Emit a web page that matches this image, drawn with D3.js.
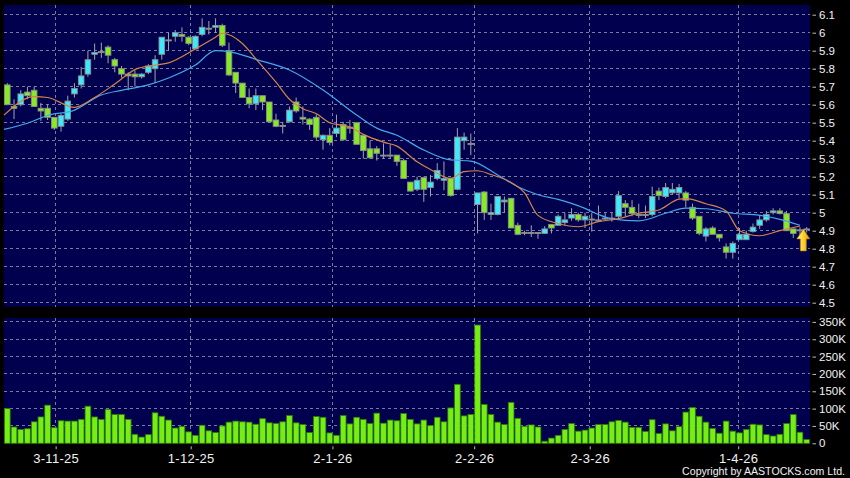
<!DOCTYPE html>
<html><head><meta charset="utf-8">
<script src="https://cdn.jsdelivr.net/npm/d3@7"></script>
<style>html,body{margin:0;padding:0;background:#000;} svg{display:block}</style>
</head><body><svg id="c" width="850" height="478"></svg>
<script>
// ---- DATA ----
const openP  = [5.71,5.59,5.60,5.67,5.68,5.58,5.58,5.53,5.48,5.52, 5.66,5.71,5.77,5.88,5.89,5.92,5.85,5.80,5.77,5.77,
 5.755,5.78,5.80,5.88,5.96,5.98,5.99,5.975,5.91,5.99, 6.025,6.03,6.04,5.90,5.78,5.72,5.64,5.605,5.65,5.615,
 5.515,5.48,5.505,5.615,5.53,5.52,5.53,5.405,5.43,5.44, 5.49,5.475,5.50,5.43,5.355,5.355,5.32,5.32,5.32,5.29,
 5.17,5.13,5.195,5.14,5.19,5.18,5.19,5.13,5.40,5.385, 5.045,5.115,4.99,4.99,5.06,5.08,4.93,4.89,4.89,4.885,
 4.885,4.935,4.93,4.945,4.97,4.99,4.96,4.96,4.96,4.97, 4.97,4.98,5.05,5.03,4.99,4.99,4.99,5.12,5.09,5.11,
 5.11,5.11,5.03,4.98,4.87,4.915,4.88,4.81,4.78,4.85, 4.85,4.895,4.93,4.96,5.00,5.01,4.995,4.91,4.905,4.91];
const highP  = [5.72,5.63,5.68,5.70,5.70,5.61,5.60,5.53,5.55,5.65, 5.72,5.81,5.90,5.94,5.945,5.93,5.86,5.815,5.78,5.79,
 5.775,5.825,5.875,5.975,6.00,6.015,6.03,5.98,5.985,6.08, 6.065,6.08,6.05,5.945,5.78,5.72,5.69,5.69,5.65,5.615,
 5.55,5.505,5.59,5.64,5.59,5.525,5.545,5.435,5.47,5.545, 5.505,5.515,5.50,5.43,5.40,5.37,5.385,5.38,5.32,5.30,
 5.17,5.20,5.20,5.21,5.275,5.285,5.195,5.47,5.445,5.44, 5.11,5.12,5.05,5.09,5.09,5.08,4.945,4.90,4.93,4.89,
 4.925,4.935,4.99,5.00,5.025,5.00,5.00,5.00,5.04,5.00, 5.00,5.12,5.07,5.07,5.05,5.04,5.145,5.14,5.165,5.165,
 5.16,5.12,5.05,4.98,4.92,4.925,4.88,4.83,4.84,4.915, 4.90,4.94,4.985,5.01,5.025,5.025,5.01,4.91,4.92,4.92];
const lowP   = [5.60,5.52,5.59,5.63,5.59,5.51,5.515,5.46,5.45,5.51, 5.64,5.69,5.755,5.85,5.86,5.83,5.78,5.75,5.68,5.70,
 5.745,5.77,5.72,5.85,5.90,5.95,5.95,5.93,5.91,5.98, 5.99,6.00,5.92,5.76,5.665,5.64,5.58,5.57,5.57,5.50,
 5.475,5.44,5.50,5.555,5.49,5.46,5.405,5.35,5.375,5.42, 5.40,5.44,5.38,5.30,5.30,5.29,5.30,5.30,5.26,5.19,
 5.12,5.12,5.06,5.09,5.18,5.125,5.09,5.125,5.35,5.32, 4.885,4.96,4.96,4.985,5.00,4.915,4.875,4.875,4.865,4.855,
 4.885,4.885,4.93,4.93,4.955,4.95,4.915,4.895,4.955,4.955, 4.95,4.97,4.98,4.98,4.97,4.97,4.98,5.07,5.08,5.10,
 5.08,5.03,4.96,4.875,4.84,4.88,4.84,4.745,4.745,4.85, 4.85,4.89,4.91,4.95,4.99,4.99,4.90,4.86,4.87,4.89];
const closeP = [5.60,5.58,5.66,5.65,5.59,5.565,5.53,5.47,5.54,5.62, 5.69,5.76,5.85,5.89,5.895,5.875,5.815,5.77,5.76,5.755,
 5.77,5.815,5.85,5.975,5.96,6.00,5.98,5.94,5.98,6.03, 6.02,6.04,5.93,5.765,5.72,5.64,5.605,5.65,5.615,5.505,
 5.48,5.485,5.57,5.565,5.52,5.49,5.42,5.43,5.39,5.47, 5.405,5.47,5.38,5.345,5.305,5.33,5.32,5.32,5.285,5.19,
 5.12,5.18,5.13,5.17,5.235,5.19,5.095,5.42,5.42,5.38, 5.11,5.00,5.00,5.09,5.07,4.915,4.88,4.885,4.89,4.89,
 4.91,4.915,4.98,4.96,4.99,4.96,4.98,4.965,4.96,4.97, 4.97,5.095,5.03,4.995,4.99,4.99,5.09,5.095,5.14,5.13,
 5.14,5.07,4.97,4.885,4.91,4.88,4.86,4.78,4.83,4.88, 4.88,4.92,4.96,4.99,5.01,4.995,4.90,4.885,4.905,4.91];
const volumeK = [100,47,40,42,62,76,110,45,65,64, 64,69,107,76,69,98,83,83,69,26, 18,25,88,78,67,44,49,33,23,52,
 36,31,50,61,64,62,61,55,71,59, 57,62,80,59,54,31,77,75,30,23, 80,56,75,69,57,87,58,67,65,86,
 69,56,67,51,75,62,102,170,79,83, 341,112,83,61,54,118,72,49,53,47, 6,15,23,40,57,35,38,44,54,54,
 62,66,61,46,46,34,68,28,56,36, 48,90,103,78,61,43,29,64,35,30, 40,55,53,25,21,26,57,83,32,11];
// moving averages read at sample bars: [bar index, value]
const ma10Pts = [[-0.5,5.542],[4,5.645],[6,5.64],[10,5.585],[13,5.64],[16,5.715],[19,5.795],[22,5.82],[24,5.832],
 [28,5.91],[31,5.975],[32,5.997],[35,5.94],[37,5.855],[40,5.725],[42,5.63],[44,5.578],[46,5.55],[48,5.50],
 [51,5.476],[53,5.435],[56,5.392],[58,5.37],[61,5.283],[63,5.24],[66,5.19],[68,5.228],[70,5.233],[72,5.212],
 [75,5.168],[77,5.11],[79,4.985],[82,4.94],[85,4.922],[88,4.95],[91,4.967],[94,4.997],[97,5.015],[100,5.075],
 [101,5.078],[104,5.05],[107,5.01],[109,4.9],[112,4.872],[115,4.9],[118,4.926]];
const ma20Pts = [[-0.5,5.463],[3,5.497],[6,5.54],[10,5.57],[14,5.654],[17,5.68],[21,5.71],[24,5.748],[28,5.82],
 [31,5.9],[33,5.895],[37,5.852],[42,5.793],[47,5.682],[52,5.543],[55,5.47],[58,5.43],[62,5.348],[66,5.293],
 [69,5.287],[73,5.21],[76,5.144],[79,5.1],[82,5.074],[86,5.024],[88,4.99],[90,4.966],[94,4.955],[98,4.997],
 [101,5.025],[104,5.022],[108,4.997],[112,4.985],[115,4.963],[118,4.93]];
const priceTicks = [4.5,4.6,4.7,4.8,4.9,5.0,5.1,5.2,5.3,5.4,5.5,5.6,5.7,5.8,5.9,6.0,6.1];
const volTicks = [0,50,100,150,200,250,300,350];
const dateTickPos = [7.2,27.3,48.4,69.5,86.7,108.8];
const dateTickLabels = ["3-11-25","1-12-25","2-1-26","2-2-26","2-3-26","1-4-26"];
const markerBar = 118.5;

// ---- CHART ----
const svg = d3.select("#c");
const W = 850, H = 478;
const panelL = 4, panelR = 810;
const pTop = 5, pBot = 306.7, vTop = 318, vBot = 443.3;
const NAVY = "#00004e", GRID = "#7a7a9c";

const x = d3.scaleLinear().domain([0, openP.length - 1]).range([7.3, 806.7]);
const yP = d3.scaleLinear().domain([4.5, 6.1]).range([302.7, 14.7]);
const yV = d3.scaleLinear().domain([0, 350]).range([vBot, 321.9]);

svg.append("rect").attr("width", W).attr("height", H).attr("fill", "#000");
svg.append("rect").attr("x", panelL).attr("y", pTop).attr("width", panelR - panelL).attr("height", pBot - pTop).attr("fill", NAVY);
svg.append("rect").attr("x", panelL).attr("y", vTop).attr("width", panelR - panelL).attr("height", vBot - vTop).attr("fill", NAVY);

const grid = svg.append("g").attr("stroke", GRID).attr("stroke-width", 1).attr("stroke-dasharray", "3,3").attr("shape-rendering", "crispEdges");
grid.selectAll(".hp").data(priceTicks).join("line")
  .attr("x1", panelL).attr("x2", panelR).attr("y1", d => yP(d)).attr("y2", d => yP(d));
grid.selectAll(".hv").data(volTicks.filter(d => d > 0)).join("line").attr("class","hv")
  .attr("x1", panelL).attr("x2", panelR).attr("y1", d => yV(d)).attr("y2", d => yV(d));
grid.selectAll(".vp").data(dateTickPos).join("line").attr("class","vp")
  .attr("x1", d => x(d)).attr("x2", d => x(d)).attr("y1", pTop).attr("y2", pBot);
grid.selectAll(".vv").data(dateTickPos).join("line").attr("class","vv")
  .attr("x1", d => x(d)).attr("x2", d => x(d)).attr("y1", vTop).attr("y2", vBot);

// candles
const idx = d3.range(openP.length);
const cg = svg.append("g");
cg.selectAll("line").data(idx).join("line")
  .attr("x1", i => x(i)).attr("x2", i => x(i))
  .attr("y1", i => yP(highP[i])).attr("y2", i => yP(lowP[i]))
  .attr("stroke", "#a4a4a4").attr("stroke-width", 1);
const bw = 5.6;
cg.selectAll("rect").data(idx).join("rect")
  .attr("x", i => x(i) - bw / 2).attr("width", bw)
  .attr("y", i => yP(Math.max(openP[i], closeP[i])))
  .attr("height", i => Math.max(1, Math.abs(yP(openP[i]) - yP(closeP[i]))))
  .attr("fill", i => closeP[i] >= openP[i] ? "#3fe9fb" : "#86ea24")
  .attr("stroke", "#8d8d8d").attr("stroke-width", 0.9);

// moving averages
const line = d3.line().x(d => x(d[0])).y(d => yP(d[1])).curve(d3.curveMonotoneX);
svg.append("path").datum(ma20Pts).attr("d", line).attr("fill", "none").attr("stroke", "#45a8ea").attr("stroke-width", 1.2);
svg.append("path").datum(ma10Pts).attr("d", line).attr("fill", "none").attr("stroke", "#d5834c").attr("stroke-width", 1.2);

// marker arrow at last price
const ax = x(markerBar), ay = yP(closeP[closeP.length - 1]);
const grad = svg.append("defs").append("linearGradient").attr("id", "ag").attr("x1", "0").attr("x2", "1");
grad.append("stop").attr("offset", "0").attr("stop-color", "#fff09a");
grad.append("stop").attr("offset", "0.5").attr("stop-color", "#ffd22a");
grad.append("stop").attr("offset", "1").attr("stop-color", "#d99a00");
svg.append("path")
  .attr("d", `M${ax},${ay} L${ax + 6.5},${ay + 10} L${ax + 3},${ay + 10} L${ax + 3},${ay + 22} L${ax - 3},${ay + 22} L${ax - 3},${ay + 10} L${ax - 6.5},${ay + 10} Z`)
  .attr("fill", "url(#ag)").attr("stroke", "#b07a00").attr("stroke-width", 0.6);

// volume bars
svg.append("g").selectAll("rect").data(idx).join("rect")
  .attr("x", i => x(i) - 2.85).attr("width", 5.7)
  .attr("y", i => yV(volumeK[i])).attr("height", i => yV(0) - yV(volumeK[i]))
  .attr("fill", "#74ee14").attr("stroke", "#2e7a08").attr("stroke-width", 0.8);

// axes
const FONT = "'Liberation Sans', Arial, sans-serif";
function styleAxis(g) {
  g.select(".domain").remove();
  g.selectAll(".tick line").attr("stroke", "#bbbbbb");
  g.selectAll(".tick text").attr("fill", "#f2f2f2").style("font-family", FONT);
}
const fmtP = d => String(+d.toFixed(1));
svg.append("g").attr("transform", `translate(${panelR + 2.5},0)`)
  .call(d3.axisRight(yP).tickValues(priceTicks).tickFormat(fmtP).tickSize(3.5).tickPadding(3))
  .call(styleAxis).call(g => g.selectAll(".tick text").style("font-size", "11.5px"));
svg.append("g").attr("transform", `translate(${panelR + 2.5},0)`)
  .call(d3.axisRight(yV).tickValues(volTicks).tickFormat(d => d === 0 ? "0" : d + "K").tickSize(3.5).tickPadding(3))
  .call(styleAxis).call(g => g.selectAll(".tick text").style("font-size", "11.5px"));
svg.append("g").attr("transform", `translate(0,${vBot + 3})`)
  .call(d3.axisBottom(x).tickValues(dateTickPos).tickFormat((d, i) => dateTickLabels[i]).tickSize(3).tickPadding(4))
  .call(styleAxis).call(g => g.selectAll(".tick text").style("font-size", "13px").style("letter-spacing", "0.3px"));

svg.append("text").attr("x", 845).attr("y", 474.5).attr("text-anchor", "end")
  .attr("fill", "#f2f2f2").style("font-family", FONT).style("font-size", "10.6px")
  .text("Copyright by AASTOCKS.com Ltd.");
</script>
</body></html>
